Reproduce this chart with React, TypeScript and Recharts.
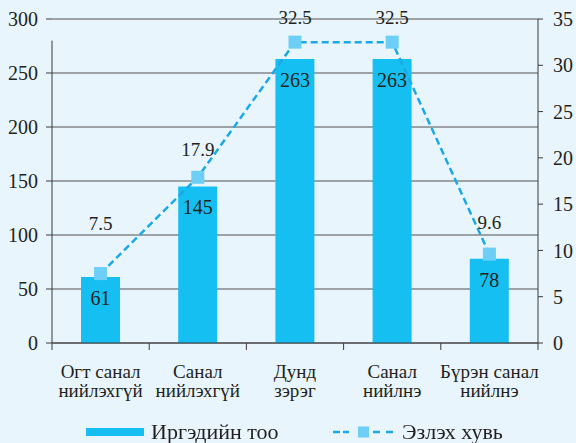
import React from 'react';
import {
  ComposedChart,
  Bar,
  Line,
  XAxis,
  YAxis,
  CartesianGrid,
  ReferenceLine,
  Legend,
  LabelList,
} from 'recharts';

const categories = [
  'Огт санал\nнийлэхгүй',
  'Санал\nнийлэхгүй',
  'Дунд\nзэрэг',
  'Санал\nнийлнэ',
  'Бүрэн санал\nнийлнэ',
];
const citizenCounts = [61, 145, 263, 263, 78];
const sharePercent = [7.5, 17.9, 32.5, 32.5, 9.6];
const leftTicks = [0, 50, 100, 150, 200, 250, 300];
const rightTicks = [0, 5, 10, 15, 20, 25, 30, 35];
const seriesNames = ['Иргэдийн тоо', 'Эзлэх хувь'];

// label lift (px above marker) for the share labels – styling only
const shareLabelLift = [50, 28, 25, 25, 32];

const data = categories.map((c, i) => ({
  category: c,
  count: citizenCounts[i],
  share: sharePercent[i],
}));

const FONT = '"Liberation Serif", "Times New Roman", serif';
const TEXT = '#231F20';
const AXIS = '#3a3a3a';
const GRID = '#505050';
const BAR = '#15BFF1';
const LINE = '#1AA9E6';
const MARK = '#6DCFF6';

const CategoryTick = (props: any) => {
  const { x, y, payload, index } = props;
  const half = payload && payload.offset ? payload.offset : 0;
  const lines = String(payload.value).split('\n');
  return (
    <g>
      <line x1={x - half} x2={x - half} y1={y} y2={y + 7} stroke={AXIS} strokeWidth={1} />
      {index === categories.length - 1 && (
        <line x1={x + half} x2={x + half} y1={y} y2={y + 7} stroke={AXIS} strokeWidth={1} />
      )}
      <text x={x} y={y + 35} textAnchor="middle" fill={TEXT} fontFamily={FONT} fontSize={19}>
        {lines[0]}
      </text>
      {lines[1] && (
        <text x={x} y={y + 54} textAnchor="middle" fill={TEXT} fontFamily={FONT} fontSize={19}>
          {lines[1]}
        </text>
      )}
    </g>
  );
};

const BarValueLabel = (props: any) => {
  const { x, y, width, value } = props;
  return (
    <text
      x={x + width / 2}
      y={y + 21}
      dy="0.35em"
      textAnchor="middle"
      fill={TEXT}
      fontFamily={FONT}
      fontSize={20}
    >
      {value}
    </text>
  );
};

const ShareLabel = (props: any) => {
  const { x, y, value, index } = props;
  return (
    <text
      x={x}
      y={y - shareLabelLift[index]}
      dy="0.35em"
      textAnchor="middle"
      fill={TEXT}
      fontFamily={FONT}
      fontSize={19}
    >
      {value}
    </text>
  );
};

const SquareDot = (props: any) => {
  const { cx, cy, index } = props;
  return <rect key={`sq-${index}`} x={cx - 6.5} y={cy - 6.5} width={13} height={13} fill={MARK} />;
};

const LegendContent = () => (
  <div style={{ position: 'relative', width: 576, height: 22, fontFamily: FONT, color: TEXT }}>
    <div style={{ position: 'absolute', left: 86, top: 0, height: 22, display: 'flex', alignItems: 'center' }}>
      <svg width={58} height={8} style={{ display: 'block' }}>
        <rect x={0} y={0} width={58} height={8} fill={BAR} />
      </svg>
      <span style={{ marginLeft: 7, fontSize: 22, lineHeight: '22px', fontFamily: FONT, whiteSpace: 'nowrap' }}>
        {seriesNames[0]}
      </span>
    </div>
    <div style={{ position: 'absolute', left: 333, top: 0, height: 22, display: 'flex', alignItems: 'center' }}>
      <svg width={60} height={12} style={{ display: 'block' }}>
        <line x1={0} x2={7} y1={6} y2={6} stroke={LINE} strokeWidth={2.5} />
        <line x1={10} x2={16} y1={6} y2={6} stroke={LINE} strokeWidth={2.5} />
        <rect x={25} y={0.5} width={11} height={11} fill={MARK} />
        <line x1={40} x2={47} y1={6} y2={6} stroke={LINE} strokeWidth={2.5} />
        <line x1={53} x2={60} y1={6} y2={6} stroke={LINE} strokeWidth={2.5} />
      </svg>
      <span style={{ marginLeft: 9, fontSize: 22, lineHeight: '22px', fontFamily: FONT, whiteSpace: 'nowrap' }}>
        {seriesNames[1]}
      </span>
    </div>
  </div>
);

export default function App() {
  return (
    <div style={{ position: 'fixed', left: 0, top: 0, width: 576, height: 443, background: '#E8F5FD' }}>
      <ComposedChart
        width={576}
        height={443}
        data={data}
        margin={{ top: 19, right: 0, bottom: 0, left: 0 }}
        barCategoryGap={0}
      >
        <CartesianGrid yAxisId="left" vertical={false} stroke={GRID} strokeWidth={1} />
        <XAxis
          dataKey="category"
          height={78}
          interval={0}
          tickSize={0}
          tickMargin={0}
          tickLine={false}
          axisLine={{ stroke: AXIS }}
          tick={<CategoryTick />}
        />
        <XAxis xAxisId="edge" type="number" domain={[0, 1]} hide />
        <YAxis
          yAxisId="left"
          width={52}
          domain={[0, 300]}
          ticks={leftTicks}
          interval={0}
          tickSize={6}
          tickMargin={8}
          axisLine={false}
          tickLine={{ stroke: AXIS }}
          tick={{ fill: TEXT, fontFamily: FONT, fontSize: 20 }}
        />
        <YAxis
          yAxisId="right"
          orientation="right"
          width={38}
          domain={[0, 35]}
          ticks={rightTicks}
          interval={0}
          tickSize={5}
          tickMargin={10}
          axisLine={{ stroke: AXIS }}
          tickLine={{ stroke: AXIS }}
          tick={{ fill: TEXT, fontFamily: FONT, fontSize: 20, textAnchor: 'start' }}
        />
        <ReferenceLine
          xAxisId="edge"
          yAxisId="left"
          segment={[{ x: 0, y: 280 }, { x: 0, y: 0 }]}
          stroke={AXIS}
          strokeWidth={1}
          ifOverflow="visible"
        />
        <Bar yAxisId="left" dataKey="count" name={seriesNames[0]} fill={BAR} barSize={39} isAnimationActive={false}>
          <LabelList dataKey="count" content={<BarValueLabel />} />
        </Bar>
        <Line
          yAxisId="right"
          type="linear"
          dataKey="share"
          name={seriesNames[1]}
          stroke={LINE}
          strokeWidth={2.5}
          strokeDasharray="7 4"
          dot={<SquareDot />}
          activeDot={false}
          isAnimationActive={false}
        >
          <LabelList dataKey="share" content={<ShareLabel />} />
        </Line>
        <Legend
          verticalAlign="bottom"
          content={<LegendContent />}
          wrapperStyle={{ top: 421, left: 0, width: 576, height: 22, bottom: 'auto' }}
        />
      </ComposedChart>
    </div>
  );
}
